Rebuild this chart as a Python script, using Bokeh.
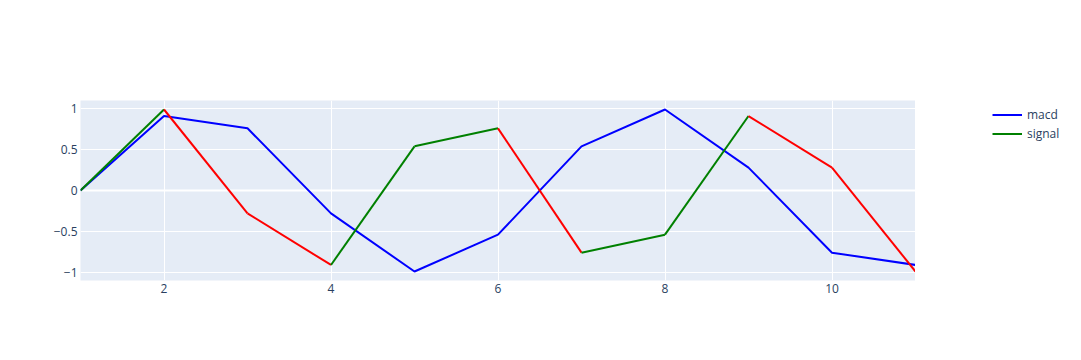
from bokeh.plotting import figure
from bokeh.layouts import row
from bokeh.models import Legend, LegendItem, FixedTicker, Span, ColumnDataSource, Range1d
from bokeh.embed import file_html
from bokeh.resources import INLINE

x = [1, 2, 3, 4, 5, 6, 7, 8, 9, 10, 11]
macd = [0, 0.91, 0.76, -0.28, -0.99, -0.54, 0.54, 0.99, 0.28, -0.76, -0.91]
signal = [0, 0.99, -0.28, -0.91, 0.54, 0.76, -0.76, -0.54, 0.91, 0.28, -0.99]
x_ticks = [2, 4, 6, 8, 10]
y_ticks = [-1, -0.5, 0, 0.5, 1]
y_tick_labels = ["\u22121", "\u22120.5", "0", "0.5", "1"]
series_names = ["macd", "signal"]

FONT = "Open Sans"
TXT = "#2a3f5f"

p = figure(width=915, height=360, output_backend="svg", toolbar_location=None,
           x_range=Range1d(1, 11), y_range=Range1d(-1.1, 1.1),
           min_border_left=80, min_border_right=0, min_border_top=100, min_border_bottom=80)
p.background_fill_color = "#E5ECF6"
p.border_fill_color = "white"
p.outline_line_color = None

for ax in (p.xaxis[0], p.yaxis[0]):
    ax.axis_line_color = None
    ax.major_tick_line_color = None
    ax.minor_tick_line_color = None
    ax.major_tick_out = 0
    ax.major_tick_in = 0
    ax.minor_tick_out = 0
    ax.minor_tick_in = 0
    ax.major_label_text_font = FONT
    ax.major_label_text_font_size = "12px"
    ax.major_label_text_color = TXT
p.xaxis[0].ticker = FixedTicker(ticks=x_ticks)
p.yaxis[0].ticker = FixedTicker(ticks=y_ticks)
p.yaxis[0].major_label_overrides = {t: l for t, l in zip(y_ticks, y_tick_labels)}
p.xaxis[0].major_label_standoff = 3
p.yaxis[0].major_label_standoff = 3

p.xgrid[0].ticker = FixedTicker(ticks=x_ticks)
p.ygrid[0].ticker = FixedTicker(ticks=y_ticks)
p.xgrid[0].grid_line_color = "white"
p.ygrid[0].grid_line_color = "white"

zero = Span(location=0, dimension="width", line_color="white", line_width=2)
zero.level = "underlay"
p.add_layout(zero)

p.line(x, macd, line_color="blue", line_width=2)

seg = ColumnDataSource(dict(
    x0=x[:-1], y0=signal[:-1], x1=x[1:], y1=signal[1:],
    c=["green" if b >= a else "red" for a, b in zip(signal[:-1], signal[1:])],
))
p.segment("x0", "y0", "x1", "y1", source=seg, line_color="c", line_width=2)

# legend panel
q = figure(width=166, height=360, output_backend="svg", toolbar_location=None,
           x_range=Range1d(0, 1), y_range=Range1d(0, 1), min_border=0)
q.axis.visible = False
q.grid.visible = False
q.outline_line_color = None
q.background_fill_color = "white"
q.border_fill_color = "white"
l1 = q.line([0.5], [0.5], line_color="blue", line_width=2)
l2 = q.line([0.5], [0.5], line_color="green", line_width=2)

legend = Legend(items=[LegendItem(label=series_names[0], renderers=[l1]),
                       LegendItem(label=series_names[1], renderers=[l2])],
                location=(77, 137), orientation="vertical")
legend.background_fill_alpha = 0
legend.border_line_color = None
legend.label_text_font = FONT
legend.label_text_font_size = "12px"
legend.label_text_color = TXT
legend.glyph_width = 30
legend.glyph_height = 19
legend.label_height = 19
legend.spacing = 0
legend.padding = 0
legend.margin = 0
legend.label_standoff = 5
q.add_layout(legend, "center")

open("out.html", "w").write(file_html(row(p, q), INLINE))
